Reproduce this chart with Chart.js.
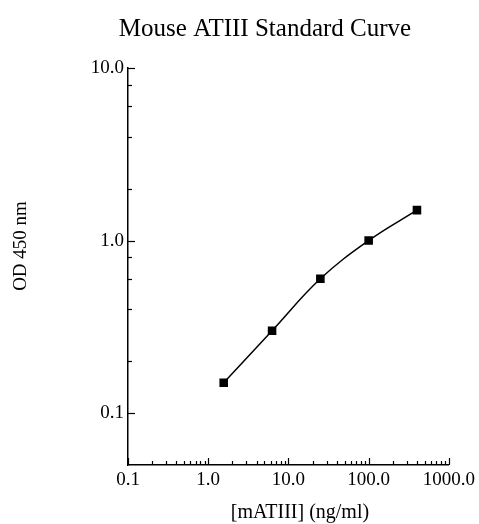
<!DOCTYPE html>
<html>
<head>
<meta charset="utf-8">
<script src="https://cdn.jsdelivr.net/npm/chart.js@4.4.1/dist/chart.umd.min.js"></script>
<style>
  html, body { margin: 0; padding: 0; background: #fff; }
  #wrap { width: 479px; height: 524px; }
</style>
</head>
<body>
<div id="wrap"><canvas id="graph_atiii" width="479" height="524"></canvas></div>
<script>
// données
const chartTitle = 'Mouse ATIII Standard Curve';
const xTitle = '[mATIII] (ng/ml)';
const yTitle = 'OD 450 nm';
const concentrations = [1.56, 6.25, 25, 100, 400];
const odValues = [0.15, 0.3, 0.6, 1.0, 1.5];
const xMajorTicks = [0.1, 1, 10, 100, 1000];
const xMinorSteps = [2, 3, 4, 5, 6, 7, 8, 9];
const yMajorTicks = [0.1, 1, 10];
const yMinorSteps = [2, 4, 6, 8];

const serif = "'Liberation Serif', 'Times New Roman', serif";

function buildLogTicks(majors, steps, min, max) {
  const ticks = [];
  majors.forEach(m => {
    ticks.push({ value: m, major: true });
    steps.forEach(s => {
      const v = m * s;
      if (v > min && v < max) ticks.push({ value: v, major: false });
    });
  });
  return ticks.filter(t => t.value >= min && t.value <= max).sort((a, b) => a.value - b.value);
}

// petits traits vers l'intérieur + titres
const decorPlugin = {
  id: 'decor',
  afterDraw(chart) {
    const ctx = chart.ctx;
    const xs = chart.scales.x, ys = chart.scales.y;
    ctx.save();
    ctx.strokeStyle = '#000';
    ctx.lineWidth = 1.2;
    xs.ticks.forEach(t => {
      const px = Math.round(xs.getPixelForValue(t.value)) + 0.5;
      const len = t.major ? 7 : 4;
      ctx.beginPath();
      ctx.moveTo(px, ys.bottom);
      ctx.lineTo(px, ys.bottom - len);
      ctx.stroke();
    });
    ys.ticks.forEach(t => {
      const py = Math.round(ys.getPixelForValue(t.value)) + 0.5;
      const len = t.major ? 7 : 4;
      ctx.beginPath();
      ctx.moveTo(xs.left, py);
      ctx.lineTo(xs.left + len, py);
      ctx.stroke();
    });

    ctx.fillStyle = '#000';
    ctx.textAlign = 'center';
    ctx.textBaseline = 'middle';
    ctx.font = '25px ' + serif;
    ctx.fillText(chartTitle, 265, 29);

    ctx.font = '20px ' + serif;
    ctx.fillText(xTitle, 300, 513);

    ctx.translate(21, 246);
    ctx.rotate(-Math.PI / 2);
    ctx.font = '19px ' + serif;
    ctx.fillText(yTitle, 0, 0);
    ctx.restore();
  }
};

const ctx = document.getElementById('graph_atiii').getContext('2d');
new Chart(ctx, {
  type: 'scatter',
  data: {
    datasets: [{
      data: concentrations.map((c, i) => ({ x: c, y: odValues[i] })),
      showLine: true,
      tension: 0.4,
      borderColor: '#000',
      backgroundColor: '#000',
      borderWidth: 1.5,
      pointStyle: 'rect',
      pointRadius: 5,
      pointHoverRadius: 5
    }]
  },
  options: {
    responsive: false,
    animation: false,
    devicePixelRatio: 1,
    layout: { padding: { top: 68, right: 29, left: 0, bottom: 0 } },
    plugins: {
      legend: { display: false },
      tooltip: { enabled: false },
      title: { display: false }
    },
    scales: {
      x: {
        type: 'logarithmic',
        position: 'bottom',
        min: 0.1,
        max: 1000,
        afterBuildTicks: axis => { axis.ticks = buildLogTicks(xMajorTicks, xMinorSteps, 0.1, 1000); },
        afterFit: axis => { axis.height = 59; },
        grid: { display: false, drawTicks: false },
        border: { display: true, color: '#000', width: 1.5 },
        ticks: {
          autoSkip: false,
          maxRotation: 0,
          padding: 4,
          color: '#000',
          font: { family: serif, size: 19 },
          callback: (v, i, ticks) => ticks[i].major ? Number(v).toFixed(1) : ''
        },
        title: { display: false }
      },
      y: {
        type: 'logarithmic',
        min: 0.05,
        max: 10,
        afterBuildTicks: axis => { axis.ticks = buildLogTicks(yMajorTicks, yMinorSteps, 0.1, 10); },
        afterFit: axis => { axis.width = 128; },
        grid: { display: false, drawTicks: false },
        border: { display: true, color: '#000', width: 1.5 },
        ticks: {
          autoSkip: false,
          padding: 4,
          color: '#000',
          font: { family: serif, size: 19 },
          callback: (v, i, ticks) => ticks[i].major ? Number(v).toFixed(1) : ''
        }
      }
    }
  },
  plugins: [decorPlugin]
});
</script>
</body>
</html>
